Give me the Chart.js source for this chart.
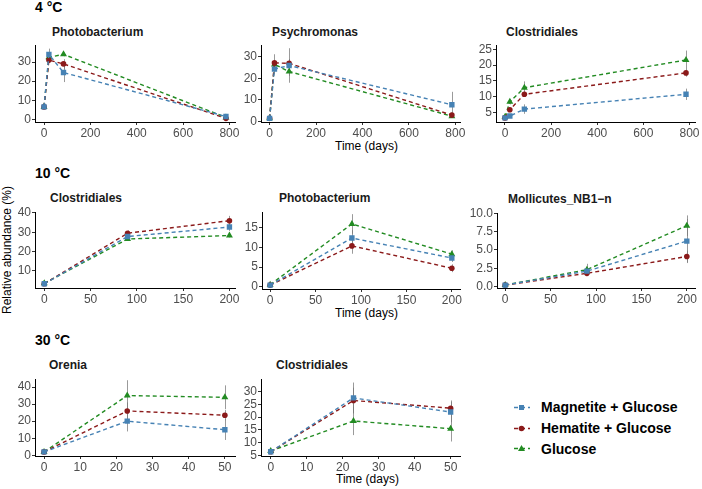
<!DOCTYPE html>
<html>
<head>
<meta charset="utf-8">
<script src="https://cdn.jsdelivr.net/npm/chart.js@4"></script>
<style>
  body { margin: 0; width: 702px; height: 489px; background: #fff; position: relative; overflow: hidden;
         font-family: "Liberation Sans", Arial, sans-serif; }
  .t { position: absolute; line-height: 1; white-space: nowrap; color: #000; }
  .temp { font-size: 14px; font-weight: bold; }
  .sub { font-size: 12px; font-weight: bold; color: #1a1a1a; }
  .axt { font-size: 12px; }
  canvas { position: absolute; }
  .leg { position: absolute; left: 514px; top: 397px; font-size: 14px; font-weight: bold; }
  .leg div { height: 20.7px; display: flex; align-items: center; }
  .leg svg { margin-right: 11px; }
</style>
</head>
<body>
<div class="t temp" style="left:35px;top:0px">4 °C</div>
<div class="t temp" style="left:35px;top:166px">10 °C</div>
<div class="t temp" style="left:35px;top:333px">30 °C</div>

<div class="t sub" style="left:52px;top:26px">Photobacterium</div>
<div class="t sub" style="left:272px;top:26px">Psychromonas</div>
<div class="t sub" style="left:506px;top:26px">Clostridiales</div>
<div class="t sub" style="left:50px;top:192px">Clostridiales</div>
<div class="t sub" style="left:279px;top:192px">Photobacterium</div>
<div class="t sub" style="left:508px;top:193px">Mollicutes_NB1−n</div>
<div class="t sub" style="left:49px;top:359px">Orenia</div>
<div class="t sub" style="left:276px;top:359px">Clostridiales</div>

<div class="t axt" style="left:335px;top:140px">Time (days)</div>
<div class="t axt" style="left:335px;top:307px">Time (days)</div>
<div class="t axt" style="left:336px;top:473px">Time (days)</div>
<div class="t axt" style="left:7px;top:250px;transform:translate(-50%,-50%) rotate(-90deg);">Relative abundance (%)</div>

<div class="leg" id="legend"></div>

<script>
// series and time points
const seriesNames = ['Magnetite + Glucose', 'Hematite + Glucose', 'Glucose'];
const seriesColors = ['#4682B4', '#8B1A1A', '#228B22'];
const seriesShapes = ['rect', 'circle', 'triangle'];

const days4 = [0, 21, 84, 785];
const days10 = [0, 90, 200];
const days30 = [0, 23, 50];

// 4 °C
const photo4Mag = [6.5, 34, 24.5, 1.5];
const photo4Hem = [6.5, 31, 29, 0.5];
const photo4Glu = [6.5, 32.5, 34, 1];
const photo4Err = [[0.5, 3, 5, 0.5], [0.5, 1.5, 2.5, 0.3], [0.5, 1, 1, 0.3]];

const psych4Mag = [1.5, 24.3, 26, 7.8];
const psych4Hem = [1.5, 27.2, 27, 3];
const psych4Glu = [1.5, 26.5, 23.2, 2.5];
const psych4Err = [[0.5, 2, 8, 6], [0.5, 4, 2, 1], [0.5, 1, 2, 0.5]];

const clos4Mag = [3.2, 3.8, 6, 10.7];
const clos4Hem = [3.2, 5.8, 10.7, 17.5];
const clos4Glu = [3.5, 8.3, 12.8, 21.6];
const clos4Err = [[0.3, 0.5, 1.5, 1.8], [0.3, 0.5, 0.8, 1.2], [0.3, 0.8, 2, 3]];

// 10 °C
const clos10Mag = [3.3, 27.8, 32.7];
const clos10Hem = [3.3, 29.5, 36];
const clos10Glu = [3.5, 26.5, 28.3];
const clos10Err = [[0.3, 1, 2], [0.3, 1.5, 2.5], [0.3, 1, 1]];

const photo10Mag = [0.4, 12.4, 7.3];
const photo10Hem = [0.4, 10.4, 4.7];
const photo10Glu = [0.5, 16, 8.3];
const photo10Err = [[0.2, 2, 1], [0.2, 2, 1], [0.2, 2.5, 1]];

const moll10Mag = [0.2, 2.1, 6.2];
const moll10Hem = [0.2, 1.8, 4.1];
const moll10Glu = [0.2, 2.3, 8.3];
const moll10Err = [[0.1, 0.4, 3], [0.1, 0.3, 0.8], [0.1, 0.8, 1.4]];

// 30 °C
const oren30Mag = [2, 20, 15];
const oren30Hem = [2, 26, 23.5];
const oren30Glu = [2, 35, 34];
const oren30Err = [[0.5, 6, 6], [0.5, 5, 3], [0.5, 9, 7]];

const clos30Mag = [6.5, 27.5, 22];
const clos30Hem = [6.5, 26.5, 23.5];
const clos30Glu = [6.8, 18.5, 15.5];
const clos30Err = [[0.5, 6, 4], [0.5, 5, 3], [0.5, 5.5, 5]];

// tick labels
const xTicks4 = [0, 200, 400, 600, 800];
const xTicks10 = [0, 50, 100, 150, 200];
const xTicks30 = [0, 10, 20, 30, 40, 50];
const yTicksPhoto4 = [0, 10, 20, 30];
const yTicksPsych4 = [0, 10, 20, 30];
const yTicksClos4 = [5, 10, 15, 20, 25];
const yTicksClos10 = [10, 20, 30, 40];
const yTicksPhoto10 = [0, 5, 10, 15];
const yTicksMoll10 = [0, 2.5, 5, 7.5, 10];
const yTicksOren30 = [0, 10, 20, 30, 40];
const yTicksClos30 = [5, 10, 15, 20, 25, 30];

const errorBars = {
  id: 'errorBars',
  beforeDatasetsDraw(chart) {
    const { ctx, scales: { x, y } } = chart;
    ctx.save();
    ctx.strokeStyle = 'rgba(120,120,120,0.75)';
    ctx.lineWidth = 1;
    chart.data.datasets.forEach(ds => {
      ds.data.forEach((p, j) => {
        const e = ds.errors[j];
        const px = Math.round(x.getPixelForValue(p.x)) + 0.5;
        ctx.beginPath();
        ctx.moveTo(px, y.getPixelForValue(p.y - e));
        ctx.lineTo(px, y.getPixelForValue(p.y + e));
        ctx.stroke();
      });
    });
    ctx.restore();
  }
};

const padL = 34, padT = 6, padR = 10, padB = 22;

function panel(box, days, vals, errs, xr, xTicks, yr, yTicks, decimals) {
  const cv = document.createElement('canvas');
  const w = Math.round(box.r - box.l) + padL + padR;
  const h = Math.round(box.b - box.t) + padT + padB;
  cv.width = w; cv.height = h;
  cv.style.left = (Math.round(box.l) - padL) + 'px';
  cv.style.top = (Math.round(box.t) - padT) + 'px';
  cv.style.width = w + 'px'; cv.style.height = h + 'px';
  document.body.appendChild(cv);

  const datasets = vals.map((v, i) => ({
    label: seriesNames[i],
    data: days.map((d, j) => ({ x: d, y: v[j] })),
    errors: errs[i],
    borderColor: seriesColors[i],
    backgroundColor: seriesColors[i],
    borderWidth: 1.4,
    borderDash: [4, 3],
    pointStyle: seriesShapes[i],
    pointRadius: seriesShapes[i] === 'circle' ? 2.8 : (seriesShapes[i] === 'rect' ? 3.8 : 4),
    pointBorderWidth: 0,
    tension: 0
  }));

  const tickFont = { family: '"Liberation Sans", Arial, sans-serif', size: 12 };
  new Chart(cv, {
    type: 'line',
    data: { datasets },
    options: {
      responsive: false,
      animation: false,
      layout: { autoPadding: false, padding: { left: 0, top: padT, right: padR, bottom: 0 } },
      plugins: { legend: { display: false }, tooltip: { enabled: false } },
      scales: {
        x: {
          type: 'linear', min: xr[0], max: xr[1],
          afterFit: s => { s.height = padB; },
          afterBuildTicks: s => { s.ticks = xTicks.map(v => ({ value: v })); },
          grid: { drawOnChartArea: false, drawTicks: true, tickLength: 3, color: '#333' },
          border: { display: true, color: '#000', width: 1 },
          ticks: { font: tickFont, color: '#4D4D4D', padding: 1, maxRotation: 0, autoSkip: false }
        },
        y: {
          type: 'linear', min: yr[0], max: yr[1],
          afterFit: s => { s.width = padL; },
          afterBuildTicks: s => { s.ticks = yTicks.map(v => ({ value: v })); },
          grid: { drawOnChartArea: false, drawTicks: true, tickLength: 3, color: '#333' },
          border: { display: true, color: '#000', width: 1 },
          ticks: { font: tickFont, color: '#4D4D4D', padding: 1, autoSkip: false,
                   callback: v => decimals ? v.toFixed(decimals) : String(v) }
        }
      }
    },
    plugins: [errorBars]
  });
}

panel({ l: 35, r: 235, t: 43, b: 122 }, days4, [photo4Mag, photo4Hem, photo4Glu], photo4Err,
      [-39, 824], xTicks4, [-1.4, 38.8], yTicksPhoto4, 0);
panel({ l: 261, r: 460, t: 43, b: 122 }, days4, [psych4Mag, psych4Hem, psych4Glu], psych4Err,
      [-37, 820], xTicks4, [-0.2, 35.4], yTicksPsych4, 0);
panel({ l: 496, r: 695, t: 43, b: 122 }, days4, [clos4Mag, clos4Hem, clos4Glu], clos4Err,
      [-39, 824], xTicks4, [1.9, 26.3], yTicksClos4, 0);

panel({ l: 35, r: 235, t: 210, b: 288 }, days10, [clos10Mag, clos10Hem, clos10Glu], clos10Err,
      [-10, 206], xTicks10, [1.1, 40.4], yTicksClos10, 0);
panel({ l: 262, r: 460, t: 210, b: 289 }, days10, [photo10Mag, photo10Hem, photo10Glu], photo10Err,
      [-9, 209], xTicks10, [-0.6, 19], yTicksPhoto10, 0);
panel({ l: 497, r: 695, t: 211, b: 288 }, days10, [moll10Mag, moll10Hem, moll10Glu], moll10Err,
      [-9, 209], xTicks10, [-0.2, 10.0], yTicksMoll10, 1);

panel({ l: 35, r: 235, t: 377, b: 456 }, days30, [oren30Mag, oren30Hem, oren30Glu], oren30Err,
      [-2.5, 52.8], xTicks30, [-0.4, 44.6], yTicksOren30, 0);
panel({ l: 261, r: 460, t: 377, b: 456 }, days30, [clos30Mag, clos30Hem, clos30Glu], clos30Err,
      [-2.7, 52.6], xTicks30, [4.85, 34.8], yTicksClos30, 0);

// legend
const legend = document.getElementById('legend');
seriesNames.forEach((name, i) => {
  const row = document.createElement('div');
  const c = seriesColors[i];
  let mark;
  if (seriesShapes[i] === 'rect') mark = `<rect x="5" y="4" width="5" height="5" fill="${c}"/>`;
  else if (seriesShapes[i] === 'circle') mark = `<circle cx="7.5" cy="6.5" r="2.8" fill="${c}"/>`;
  else mark = `<polygon points="7.5,3 11,9 4,9" fill="${c}"/>`;
  row.innerHTML = `<svg width="16" height="13"><line x1="0" y1="6.5" x2="16" y2="6.5" stroke="${c}" stroke-width="1.4" stroke-dasharray="4,3"/>${mark}</svg><span>${name}</span>`;
  legend.appendChild(row);
});
</script>
</body>
</html>
